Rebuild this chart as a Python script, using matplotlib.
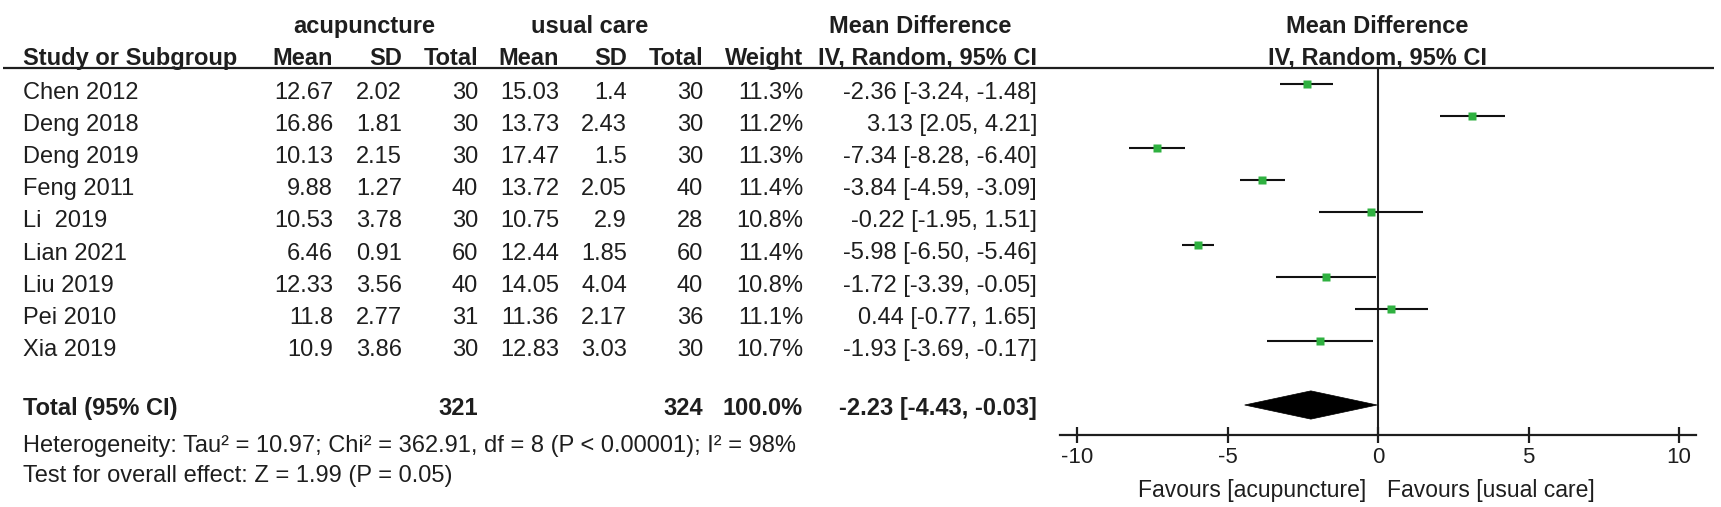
import matplotlib
matplotlib.use("Agg")
import matplotlib.pyplot as plt
from matplotlib.patches import Polygon

# ---------------- data ----------------
studies = ["Chen 2012", "Deng 2018", "Deng 2019", "Feng 2011", "Li  2019",
           "Lian 2021", "Liu 2019", "Pei 2010", "Xia 2019"]
acu_mean = [12.67, 16.86, 10.13, 9.88, 10.53, 6.46, 12.33, 11.8, 10.9]
acu_sd = [2.02, 1.81, 2.15, 1.27, 3.78, 0.91, 3.56, 2.77, 3.86]
acu_n = [30, 30, 30, 40, 30, 60, 40, 31, 30]
uc_mean = [15.03, 13.73, 17.47, 13.72, 10.75, 12.44, 14.05, 11.36, 12.83]
uc_sd = [1.4, 2.43, 1.5, 2.05, 2.9, 1.85, 4.04, 2.17, 3.03]
uc_n = [30, 30, 30, 40, 28, 60, 40, 36, 30]
weight = [11.3, 11.2, 11.3, 11.4, 10.8, 11.4, 10.8, 11.1, 10.7]
md = [-2.36, 3.13, -7.34, -3.84, -0.22, -5.98, -1.72, 0.44, -1.93]
ci_lo = [-3.24, 2.05, -8.28, -4.59, -1.95, -6.50, -3.39, -0.77, -3.69]
ci_hi = [-1.48, 4.21, -6.40, -3.09, 1.51, -5.46, -0.05, 1.65, -0.17]
total_acu_n = 321
total_uc_n = 324
total_weight = 100.0
total_md = -2.23
total_lo = -4.43
total_hi = -0.03
xticks = [-10, -5, 0, 5, 10]
heterogeneity = "Heterogeneity: Tau\u00b2 = 10.97; Chi\u00b2 = 362.91, df = 8 (P < 0.00001); I\u00b2 = 98%"
overall = "Test for overall effect: Z = 1.99 (P = 0.05)"
fav_left = "Favours [acupuncture]"
fav_right = "Favours [usual care]"

# ---------------- style ----------------
plt.rcParams["font.family"] = ["Liberation Sans", "DejaVu Sans"]
TXT = "#1e1e1e"
GREEN = "#2fb140"
FS = 17

W, H = 1721, 507
fig = plt.figure(figsize=(W / 100, H / 100), dpi=100)
fig.patch.set_facecolor("white")

bg = fig.add_axes([0, 0, 1, 1])
bg.set_xlim(0, W)
bg.set_ylim(H, 0)
bg.axis("off")

# column right edges (px)
col_study = 23
col_am, col_asd, col_an = 333, 402, 478
col_um, col_usd, col_un = 559, 627, 703
col_w, col_ci = 803, 1037

# header
hdr1_y, hdr2_y = 33, 65
bg.text(364, hdr1_y, "acupuncture", ha="center", va="baseline", fontsize=FS, fontweight="bold", color=TXT)
bg.text(590, hdr1_y, "usual care", ha="center", va="baseline", fontsize=FS, fontweight="bold", color=TXT)
bg.text(920, hdr1_y, "Mean Difference", ha="center", va="baseline", fontsize=FS, fontweight="bold", color=TXT)
bg.text(1377, hdr1_y, "Mean Difference", ha="center", va="baseline", fontsize=FS, fontweight="bold", color=TXT)
bg.text(col_study, hdr2_y, "Study or Subgroup", ha="left", va="baseline", fontsize=FS, fontweight="bold", color=TXT)
for x, s in [(col_am, "Mean"), (col_asd, "SD"), (col_an, "Total"), (col_um, "Mean"),
             (col_usd, "SD"), (col_un, "Total"), (col_w, "Weight"), (col_ci, "IV, Random, 95% CI")]:
    bg.text(x, hdr2_y, s, ha="right", va="baseline", fontsize=FS, fontweight="bold", color=TXT)
bg.text(1377, hdr2_y, "IV, Random, 95% CI", ha="center", va="baseline", fontsize=FS, fontweight="bold", color=TXT)
bg.plot([3, 1714], [67.7, 67.7], color=TXT, lw=1.6, solid_capstyle="butt")

# study rows
row0, rstep = 99, 32.1
for i, name in enumerate(studies):
    y = row0 + rstep * i
    bg.text(col_study, y, name, ha="left", va="baseline", fontsize=FS, color=TXT)
    vals = [(col_am, str(acu_mean[i])), (col_asd, str(acu_sd[i])), (col_an, str(acu_n[i])),
            (col_um, str(uc_mean[i])), (col_usd, str(uc_sd[i])), (col_un, str(uc_n[i])),
            (col_w, f"{weight[i]:.1f}%"),
            (col_ci, f"{md[i]:.2f} [{ci_lo[i]:.2f}, {ci_hi[i]:.2f}]")]
    for x, s in vals:
        bg.text(x, y, s, ha="right", va="baseline", fontsize=FS, color=TXT)

# total row
ty = 415
bg.text(col_study, ty, "Total (95% CI)", ha="left", va="baseline", fontsize=FS, fontweight="bold", color=TXT)
for x, s in [(col_an, str(total_acu_n)), (col_un, str(total_uc_n)), (col_w, f"{total_weight:.1f}%"),
             (col_ci, f"{total_md:.2f} [{total_lo:.2f}, {total_hi:.2f}]")]:
    bg.text(x, ty, s, ha="right", va="baseline", fontsize=FS, fontweight="bold", color=TXT)
bg.text(col_study, 452, heterogeneity, ha="left", va="baseline", fontsize=FS, color=TXT)
bg.text(col_study, 482, overall, ha="left", va="baseline", fontsize=FS, color=TXT)

# ---------------- forest axes ----------------
x0px, ppu = 1378, 30.1
xmin, xmax = -10.56, 10.56
top_px, bot_px = 67.7, 435
m0px = 84
ytop = (top_px - m0px) / rstep
ybot = (bot_px - m0px) / rstep
left_px = x0px + xmin * ppu
ax = fig.add_axes([left_px / W, 1 - bot_px / H, (xmax - xmin) * ppu / W, (bot_px - top_px) / H])
ax.set_xlim(xmin, xmax)
ax.set_ylim(ybot, ytop)
ax.patch.set_visible(False)

ys = list(range(len(studies)))
ax.hlines(ys, ci_lo, ci_hi, color="#111111", lw=1.5, zorder=2)
ax.plot(md, ys, "s", ms=5.6, color=GREEN, mec="none", zorder=3)
ax.axvline(0, color=TXT, lw=1.5, zorder=1)

ty_f = len(studies) + 1
hh = 0.44
ax.add_patch(Polygon([(total_lo, ty_f), (total_md, ty_f - hh), (total_hi, ty_f), (total_md, ty_f + hh)],
                     closed=True, facecolor="black", edgecolor="black", lw=0.5, zorder=3))

for s in ["top", "left", "right"]:
    ax.spines[s].set_visible(False)
ax.spines["bottom"].set_linewidth(1.6)
ax.spines["bottom"].set_color(TXT)
ax.set_yticks([])
ax.set_xticks(xticks)
ax.set_xticklabels([str(t) for t in xticks])
ax.tick_params(axis="x", direction="inout", length=11, width=1.6, color=TXT,
               labelsize=16, labelcolor=TXT, pad=3)

bg.text(1366, 497, fav_left, ha="right", va="baseline", fontsize=16.5, color=TXT)
bg.text(1387, 497, fav_right, ha="left", va="baseline", fontsize=16.5, color=TXT)

fig.savefig("out.png", dpi=100, facecolor="white")
